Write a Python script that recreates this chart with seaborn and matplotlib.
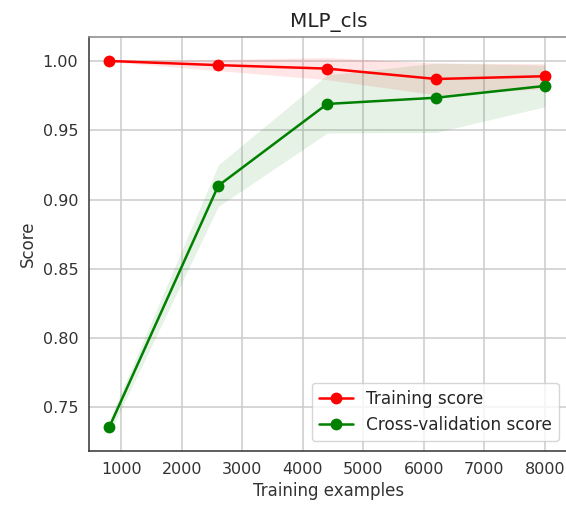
import numpy as np
import pandas as pd
import matplotlib
matplotlib.use("Agg")
import matplotlib.pyplot as plt
import seaborn as sns

train_sizes = [800, 2600, 4400, 6200, 8000]
train_mean = [1.000, 0.997, 0.9945, 0.987, 0.989]
train_std = [0.0005, 0.004, 0.008, 0.0115, 0.009]
cv_mean = [0.736, 0.910, 0.969, 0.9735, 0.982]
cv_std = [0.005, 0.015, 0.021, 0.025, 0.015]

sns.set_style("white")
plt.rcParams["font.family"] = ["DejaVu Sans"]
plt.rcParams["font.size"] = 12

fig = plt.figure(figsize=(5.66, 5.05), dpi=100)
ax = fig.add_axes([89 / 566, (505 - 451) / 505, 480 / 566, 414 / 505])

tm = np.array(train_mean); ts = np.array(train_std)
cm = np.array(cv_mean); cs = np.array(cv_std)
ax.fill_between(train_sizes, tm - ts, tm + ts, alpha=0.1, color="r", linewidth=0)
ax.fill_between(train_sizes, cm - cs, cm + cs, alpha=0.1, color="g", linewidth=0)

df = pd.DataFrame({"x": train_sizes + train_sizes,
                   "y": train_mean + cv_mean,
                   "s": ["Training score"] * 5 + ["Cross-validation score"] * 5})
sns.lineplot(data=df, x="x", y="y", hue="s", palette={"Training score": "r", "Cross-validation score": "g"},
             marker="o", markersize=8.5, markeredgewidth=0, linewidth=1.8, ax=ax, legend=False)
ax.plot([], [], "o-", color="r", label="Training score", markersize=8.5, markeredgewidth=0, linewidth=1.8)
ax.plot([], [], "o-", color="g", label="Cross-validation score", markersize=8.5, markeredgewidth=0, linewidth=1.8)

ax.set_xlim(463, 8397)
ax.set_ylim(0.7186, 1.0173)
ax.set_yticks([0.75, 0.80, 0.85, 0.90, 0.95, 1.00])
ax.set_xticks([1000, 2000, 3000, 4000, 5000, 6000, 7000, 8000])
ax.grid(True, color="#cccccc", linewidth=1.1)
ax.tick_params(axis="both", which="both", direction="out", length=4.2, width=1, colors="#333333", labelsize=11.5)
for s in ["left", "bottom"]:
    ax.spines[s].set_color("#333333")
    ax.spines[s].set_linewidth(1.1)
ax.spines["top"].set_color("#888888")
ax.spines["top"].set_linewidth(1.1)
ax.spines["right"].set_visible(False)
ax.set_title("MLP_cls", fontsize=14.4, color="#222222", pad=7)
ax.set_xlabel("Training examples", fontsize=12, color="#333333")
ax.set_ylabel("Score", fontsize=12, color="#333333")
ax.legend(loc="lower right", fontsize=12.2, frameon=True, borderaxespad=0.6)

fig.savefig("out.png", dpi=100)
